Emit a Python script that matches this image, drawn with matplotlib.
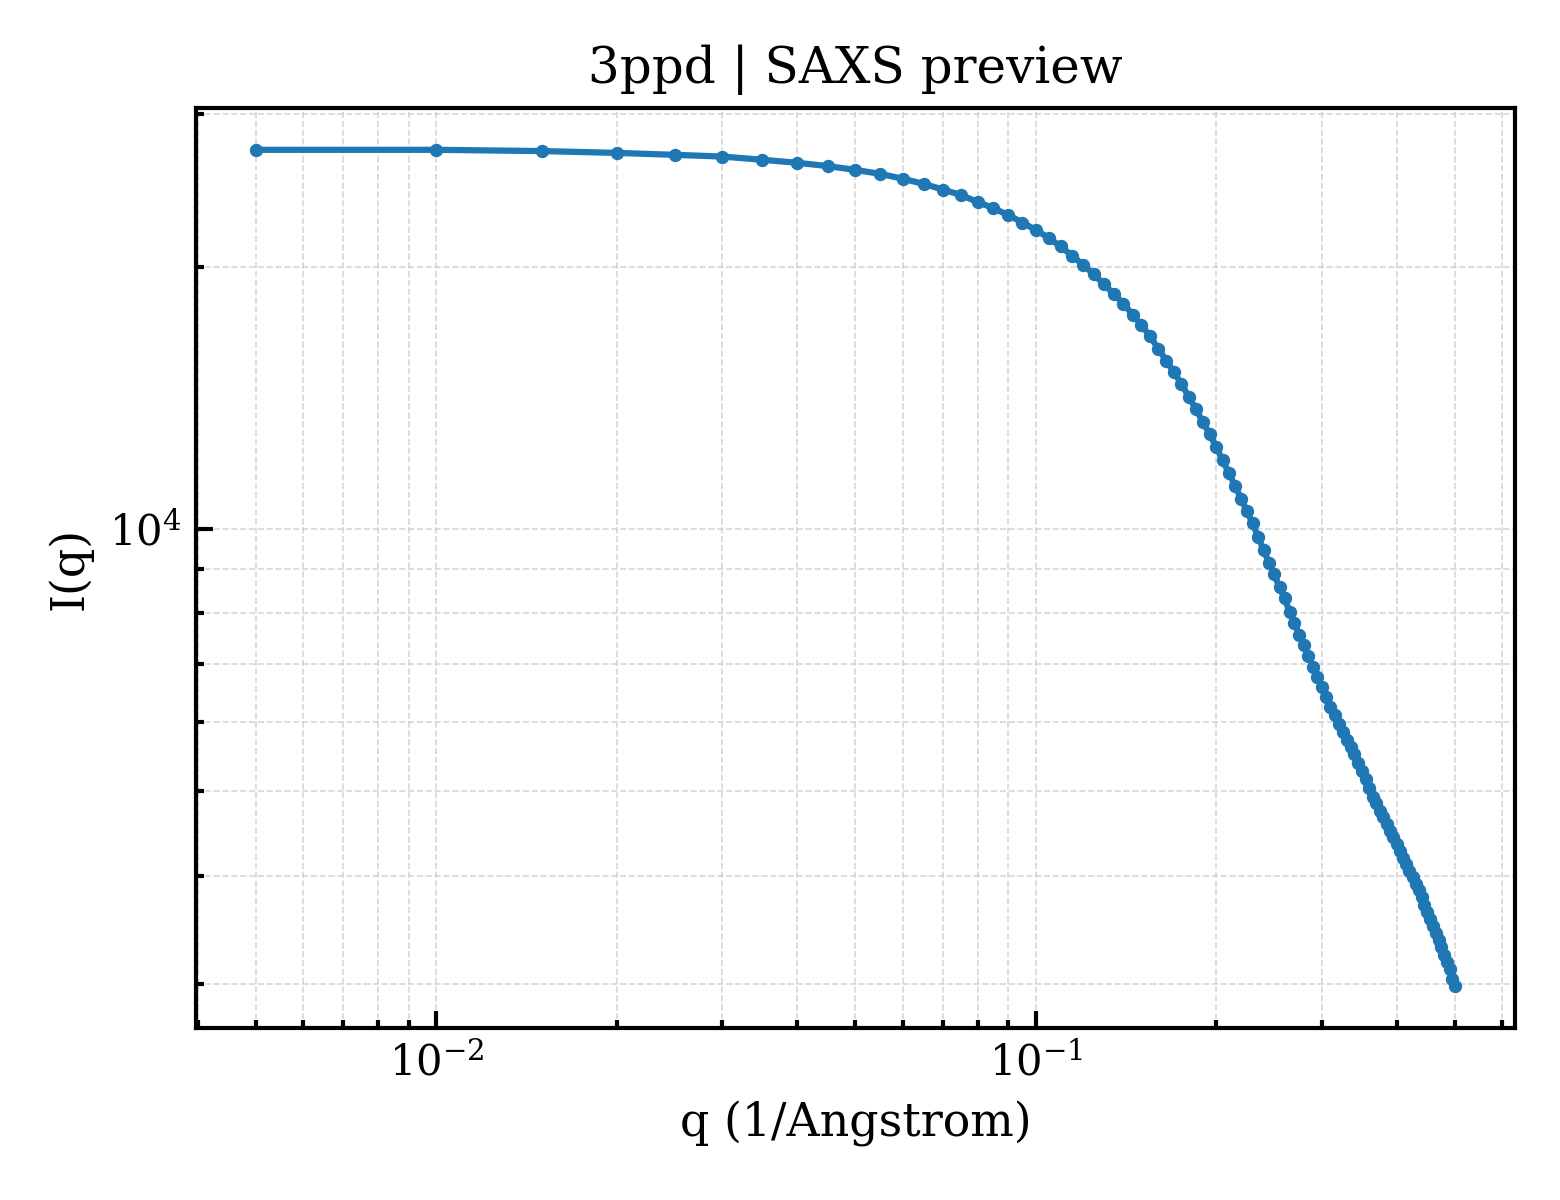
import numpy as np
from matplotlib import pyplot as plt

q = [0.005, 0.010, 0.015, 0.020, 0.025, 0.030, 0.035, 0.040, 0.045, 0.050,
     0.055, 0.060, 0.065, 0.070, 0.075, 0.080, 0.085, 0.090, 0.095, 0.100,
     0.105, 0.110, 0.115, 0.120, 0.125, 0.130, 0.135, 0.140, 0.145, 0.150,
     0.155, 0.160, 0.165, 0.170, 0.175, 0.180, 0.185, 0.190, 0.195, 0.200,
     0.205, 0.210, 0.215, 0.220, 0.225, 0.230, 0.235, 0.240, 0.245, 0.250,
     0.255, 0.260, 0.265, 0.270, 0.275, 0.280, 0.285, 0.290, 0.295, 0.300,
     0.305, 0.310, 0.315, 0.320, 0.325, 0.330, 0.335, 0.340, 0.345, 0.350,
     0.355, 0.360, 0.365, 0.370, 0.375, 0.380, 0.385, 0.390, 0.395, 0.400,
     0.405, 0.410, 0.415, 0.420, 0.425, 0.430, 0.435, 0.440, 0.445, 0.450,
     0.455, 0.460, 0.465, 0.470, 0.475, 0.480, 0.485, 0.490, 0.495, 0.500]

intensity = [27270, 27270, 27180, 27050, 26910, 26790, 26560, 26350, 26120, 25860,
             25590, 25260, 24920, 24550, 24200, 23750, 23370, 22940, 22500, 22060,
             21610, 21120, 20610, 20110, 19620, 19100, 18620, 18150, 17640, 17160,
             16660, 16120, 15620, 15140, 14680, 14180, 13740, 13260, 12860, 12420,
             11990, 11600, 11210, 10840, 10490, 10160, 9790, 9460, 9140, 8870,
             8570, 8330, 8040, 7810, 7560, 7360, 7155, 6940, 6770, 6580,
             6410, 6250, 6120, 5975, 5850, 5720, 5620, 5510, 5380, 5280,
             5160, 5040, 4930, 4840, 4750, 4670, 4585, 4505, 4430, 4350,
             4270, 4195, 4120, 4050, 3980, 3910, 3845, 3780, 3705, 3635,
             3565, 3500, 3435, 3370, 3310, 3245, 3180, 3120, 3045, 2985]

plt.rcParams['font.family'] = 'DejaVu Serif'
plt.rcParams['mathtext.fontset'] = 'dejavuserif'

fig, ax = plt.subplots(figsize=(5.2, 4), dpi=300)
fig.subplots_adjust(left=0.1256, right=0.971, top=0.91, bottom=0.1433)

ax.plot(q, intensity, marker='o', markersize=2.2, linewidth=1.5, color='#1f77b4')
ax.set_xscale('log')
ax.set_yscale('log')

ax.set_title('3ppd | SAXS preview', fontsize=12)
ax.set_xlabel('q (1/Angstrom)', fontsize=11)
ax.set_ylabel('I(q)', fontsize=11)

for spine in ax.spines.values():
    spine.set_linewidth(1.0)
ax.tick_params(which='both', direction='in', labelsize=10, width=1.0)
ax.tick_params(which='major', length=4)
ax.tick_params(which='minor', length=2)
ax.grid(True, which='both', linestyle='--', linewidth=0.4, color='#cccccc', alpha=0.8)

fig.savefig('out.png', dpi=300)
